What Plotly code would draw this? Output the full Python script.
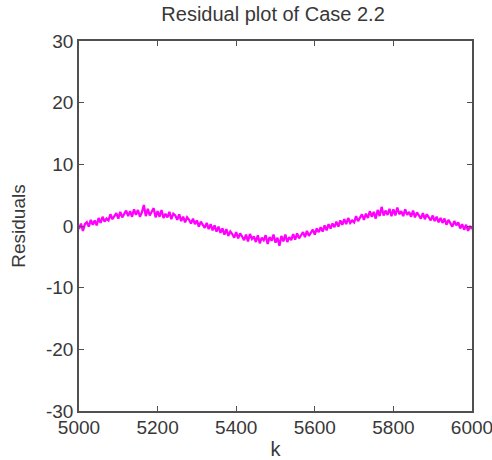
import plotly.graph_objects as go

# sample index k (every 5 samples)
k_values = list(range(5000, 6001, 5))

# residuals
residuals = [
    -0.5, 0.4, -0.8, 0.3, 0.6,
    -0.1, 1.0, 0.2, 0.9, 0.1,
    1.3, 0.5, 1.5, 0.7, 1.2,
    0.9, 1.9, 1.1, 1.6, 2.1,
    1.2, 2.3, 1.4, 1.9, 2.5,
    1.6, 2.4, 1.5, 2.7, 1.8,
    2.6, 1.5, 2.2, 3.4, 1.6,
    2.8, 1.7, 2.3, 2.9, 1.4,
    2.4, 1.5, 2.6, 1.3, 2.0,
    1.4, 2.3, 1.1, 2.0, 1.7,
    1.0, 1.9, 0.8, 1.5, 0.6,
    1.4, 1.0, 0.4, 1.2, 0.3,
    0.9, -0.1, 0.7, 0.2, -0.3,
    0.5, -0.5, 0.3, -0.7, 0.1,
    -0.9, -0.1, -1.1, -0.4, -1.4,
    -0.5, -1.6, -0.9, -1.3, -1.9,
    -1.0, -2.0, -1.2, -1.7, -2.3,
    -1.4, -2.5, -1.3, -2.1, -1.7,
    -2.6, -1.5, -2.8, -1.9, -2.3,
    -1.5, -2.9, -1.8, -2.4, -1.4,
    -2.7, -1.9, -3.2, -1.6, -2.5,
    -1.4, -2.6, -1.8, -2.3, -1.3,
    -2.2, -1.2, -2.0, -1.5, -1.0,
    -1.8, -0.8, -1.6, -1.1, -0.6,
    -1.4, -0.4, -1.0, -0.2, -0.9,
    0.1, -0.7, 0.3, -0.4, 0.4,
    -0.2, 0.7, -0.1, 0.9, 0.2,
    1.1, 0.3, 1.3, 0.5, 0.9,
    0.6, 1.6, 0.8, 1.4, 1.9,
    1.0, 2.0, 1.3, 2.4, 1.5,
    2.3, 1.2, 2.6, 1.6, 3.1,
    1.7, 2.5, 1.8, 2.8, 1.6,
    2.7, 1.7, 3.0, 1.9, 2.4,
    1.6, 2.7, 1.8, 2.3, 1.5,
    2.5, 1.4, 2.2, 1.7, 1.2,
    2.1, 1.1, 1.9, 1.4, 0.9,
    1.7, 0.8, 1.5, 0.6, 1.3,
    0.5, 1.2, 0.2, 1.0, 0.4,
    -0.1, 0.8, 0.1, 0.6, -0.4,
    0.3, -0.6, 0.2, -0.8, 0.0,
    -0.5,
]

x_ticks = [5000, 5200, 5400, 5600, 5800, 6000]
y_ticks = [-30, -20, -10, 0, 10, 20, 30]

FONT = "Liberation Sans, Arial, sans-serif"
AX = "#505050"

fig = go.Figure()
fig.add_trace(go.Scatter(
    x=k_values, y=residuals, mode="lines",
    line=dict(color="#ff00ff", width=2.3),
    showlegend=False,
))

fig.update_layout(
    width=492, height=460,
    margin=dict(l=79, r=20, t=41, b=49, autoexpand=False),
    paper_bgcolor="white", plot_bgcolor="white",
    font=dict(family=FONT, size=19, color="#383838"),
    title=dict(text="Residual plot of Case 2.2", x=0.555, xanchor="center",
               y=0.97, yanchor="middle", font=dict(size=20, color="#383838")),
)
fig.update_xaxes(
    range=[5000, 6000], tickvals=x_ticks, ticktext=[str(v) for v in x_ticks],
    showgrid=False, zeroline=False, showline=True, mirror="ticks",
    linecolor=AX, linewidth=1.5, ticks="inside", ticklen=5, tickcolor=AX,
    automargin=False, ticklabeloverflow="allow", ticklabelstandoff=-2,
    title=dict(text="k", standoff=5, font=dict(size=20)),
)
fig.update_yaxes(
    range=[-30, 30], tickvals=y_ticks, ticktext=[str(v) for v in y_ticks],
    showgrid=False, zeroline=False, showline=True, mirror="ticks",
    linecolor=AX, linewidth=1.5, ticks="inside", ticklen=5, tickcolor=AX,
    automargin=False,
    title=dict(text="Residuals", standoff=15, font=dict(size=19)),
)

fig.write_html("out.html")
